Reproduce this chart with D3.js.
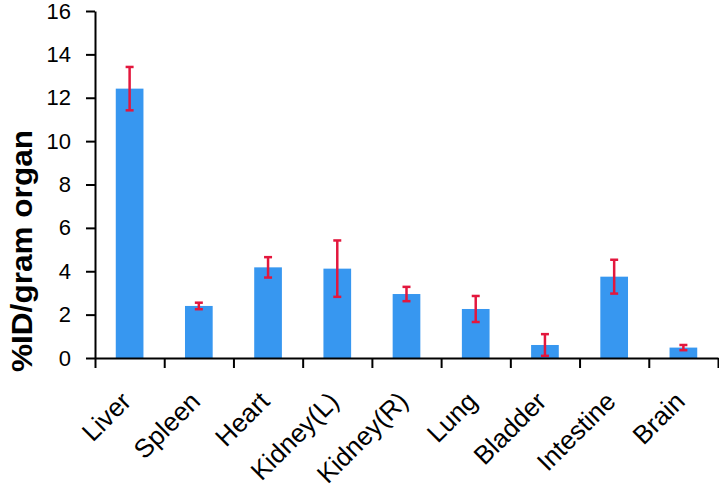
<!DOCTYPE html>
<html>
<head>
    <meta charset="UTF-8">
    <title>Biodistribution</title>
    <script src="https://d3js.org/d3.v7.min.js"></script>
    <style>
        body { margin: 0; background: #fff; }
        text { font-family: Arial, "Liberation Sans", sans-serif; }
    </style>
</head>
<body>
<div id="chart"></div>
<script>
    // organ names and %ID/g values (mean and error)
    var organs = ["Liver", "Spleen", "Heart", "Kidney(L)", "Kidney(R)", "Lung", "Bladder", "Intestine", "Brain"];
    var means = [12.42, 2.4, 4.18, 4.12, 2.95, 2.26, 0.6, 3.75, 0.48];
    var errors = [1.0, 0.15, 0.47, 1.3, 0.33, 0.6, 0.5, 0.78, 0.12];
    var yTicks = [0, 2, 4, 6, 8, 10, 12, 14, 16];

    var width = 719, height = 488;
    var plotLeft = 95, plotRight = 718, plotTop = 11, plotBottom = 358;

    var svg = d3.select("#chart").append("svg")
        .attr("width", width)
        .attr("height", height);

    var x = d3.scaleBand().domain(organs).range([plotLeft, plotRight]);
    // boundaries between categories, for the tick marks
    var xb = d3.scaleLinear().domain([0, organs.length]).range([plotLeft, plotRight]);
    var y = d3.scaleLinear().domain([0, 16]).range([plotBottom, plotTop]);

    var barW = x.bandwidth() * 0.4;

    // bars
    svg.selectAll("rect.bar")
        .data(organs)
        .enter()
        .append("rect")
        .attr("class", "bar")
        .attr("x", function(d) { return x(d) + (x.bandwidth() - barW) / 2; })
        .attr("y", function(d, i) { return y(means[i]); })
        .attr("width", barW)
        .attr("height", function(d, i) { return plotBottom - y(means[i]); })
        .attr("fill", "#3797f0");

    // error bars
    var eb = svg.selectAll("g.err")
        .data(organs)
        .enter()
        .append("g")
        .attr("class", "err")
        .attr("stroke", "#e3173d")
        .attr("stroke-width", 2.5);

    var cx = function(d) { return x(d) + x.bandwidth() / 2; };
    var hi = function(d, i) { return y(means[i] + errors[i]); };
    var lo = function(d, i) { return y(Math.max(0, means[i] - errors[i])); };
    eb.append("line")
        .attr("x1", cx).attr("x2", cx)
        .attr("y1", hi)
        .attr("y2", lo);
    eb.append("line")
        .attr("x1", function(d) { return cx(d) - 4; })
        .attr("x2", function(d) { return cx(d) + 4; })
        .attr("y1", hi)
        .attr("y2", hi);
    eb.append("line")
        .attr("x1", function(d) { return cx(d) - 4; })
        .attr("x2", function(d) { return cx(d) + 4; })
        .attr("y1", lo)
        .attr("y2", lo);

    // y axis
    var yAxis = svg.append("g")
        .attr("transform", "translate(" + plotLeft + ",0)")
        .call(d3.axisLeft(y).tickValues(yTicks).tickSize(9).tickSizeOuter(0).tickPadding(15));
    yAxis.selectAll("path, line").attr("stroke", "#000").attr("stroke-width", 2);
    yAxis.selectAll("text").attr("font-size", 22).attr("fill", "#000");

    // x axis
    var xAxis = svg.append("g")
        .attr("transform", "translate(0," + plotBottom + ")")
        .call(d3.axisBottom(xb).tickValues(d3.range(organs.length + 1)).tickFormat("").tickSize(10).tickSizeOuter(0));
    xAxis.selectAll("path, line").attr("stroke", "#000").attr("stroke-width", 2);

    // rotated category labels
    svg.selectAll("text.cat")
        .data(organs)
        .enter()
        .append("text")
        .attr("class", "cat")
        .attr("transform", function(d) {
            return "translate(" + (cx(d) + 3) + ",403) rotate(-45)";
        })
        .attr("text-anchor", "end")
        .attr("font-size", 26)
        .attr("fill", "#000")
        .text(function(d) { return d; });

    // y axis title
    svg.append("text")
        .attr("transform", "translate(32,251) rotate(-90)")
        .attr("text-anchor", "middle")
        .attr("font-size", 30)
        .attr("font-weight", "bold")
        .attr("textLength", 242)
        .attr("lengthAdjust", "spacingAndGlyphs")
        .text("%ID/gram organ");
</script>
</body>
</html>
